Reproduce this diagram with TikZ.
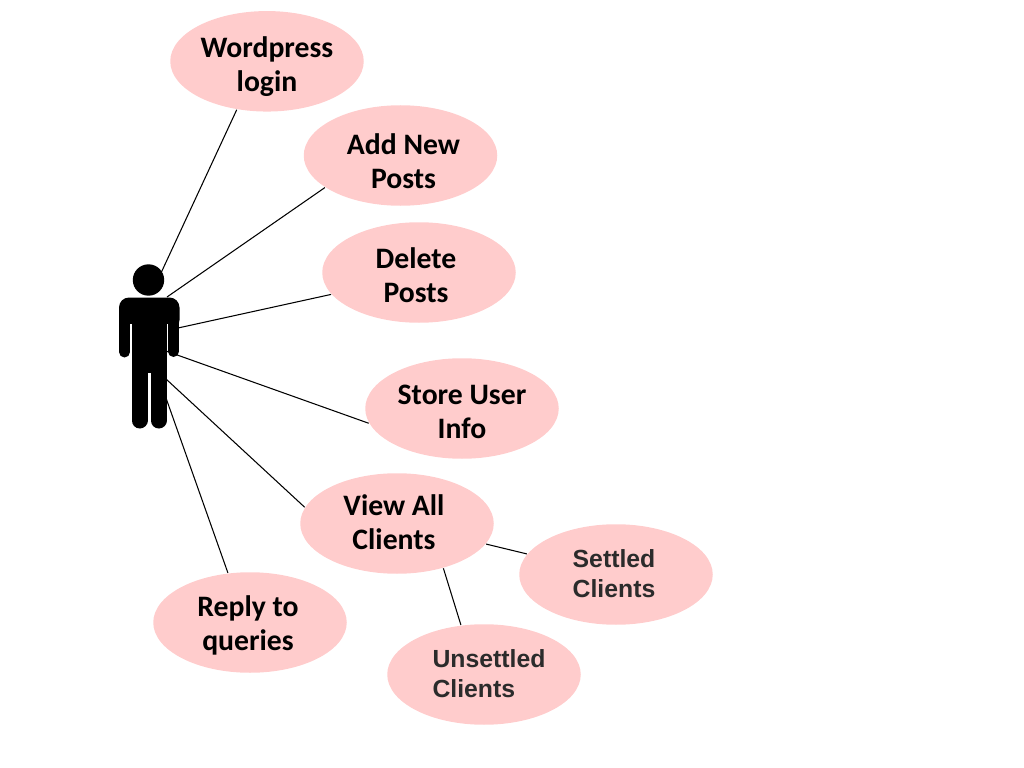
\documentclass[tikz,border=0pt]{standalone}
\usepackage{fontspec}
\setmainfont{Carlito}
\newfontfamily\subfont{Liberation Sans}
\usetikzlibrary{shapes.geometric}
\definecolor{casepink}{HTML}{FFCCCC}
\definecolor{subtext}{HTML}{2B2B2B}

\begin{document}
\begin{tikzpicture}[
scale=1,
usecase/.style={ellipse,draw=none,fill=casepink,minimum width=1.935cm,minimum height=1.005cm,inner sep=0pt},
casetext/.style={inner sep=0pt,align=center,font=\fontsize{8.45}{9.67}\selectfont\bfseries},
subtext/.style={inner sep=0pt,align=left,text=subtext,font=\fontsize{7.05}{8.5}\selectfont\subfont\bfseries},
link/.style={line width=0.3pt},
limb/.style={line width=#1,line cap=round}
]
    \useasboundingbox (0,0) rectangle (10.24,-7.68);

    % Draw use cases
    \node[usecase] (login) at (2.67,-0.613) {};
    \node[usecase] (addposts) at (4.005,-1.555) {};
    \node[usecase] (delposts) at (4.19,-2.725) {};
    \node[usecase] (store) at (4.62,-4.085) {};
    \node[usecase] (clients) at (3.97,-5.235) {};
    \node[usecase] (reply) at (2.50,-6.225) {};
    \node[usecase] (settled) at (6.16,-5.745) {};
    \node[usecase] (unsettled) at (4.84,-6.745) {};

    % Labels sit a little off centre
    \node[casetext,yshift=-0.05cm] (logintext) at (login) {Wordpress\\login};
    \node[casetext,xshift=0.03cm,yshift=-0.06cm] (addtext) at (addposts) {Add New\\Posts};
    \node[casetext,xshift=-0.03cm,yshift=-0.03cm] (deltext) at (delposts) {Delete\\Posts};
    \node[casetext,yshift=-0.03cm] (storetext) at (store) {Store User\\Info};
    \node[casetext,xshift=-0.03cm,yshift=0.01cm] (clientstext) at (clients) {View All\\Clients};
    \node[casetext,xshift=-0.02cm,yshift=-0.03cm] (replytext) at (reply) {Reply to\\queries};
    \node[subtext,xshift=-0.02cm,yshift=0.01cm] (settledtext) at (settled) {Settled\\Clients};
    \node[subtext,xshift=0.05cm,yshift=0.01cm] (unsettledtext) at (unsettled) {Unsettled\\Clients};

    % Where the lines meet the figure
    \draw
    (1.61,-2.73) coordinate (P1)
    (1.67,-2.97) coordinate (P2)
    (1.78,-3.28) coordinate (P3)
    (1.66,-3.51) coordinate (P4)
    (1.66,-3.79) coordinate (P5)
    (1.66,-3.98) coordinate (P6);

    \draw[link] (P1) -- (login.238);
    \draw[link] (P2) -- (addposts.203);
    \draw[link] (P3) -- (delposts.194);
    \draw[link] (P4) -- (store.189);
    \draw[link] (P5) -- (clients.170);
    \draw[link] (P6) -- (reply.114);
    \draw[link] (clients.-13) -- (settled.167);
    \draw[link] (clients.-44) -- (unsettled.115);

    % Draw figure
    \node[circle,fill=black,minimum size=0.314cm,inner sep=0pt] (head) at (1.485,-2.80) {};
    \fill[rounded corners=0.1cm] (1.19,-2.975) rectangle (1.795,-3.30);
    \fill (1.315,-3.10) rectangle (1.667,-3.73);
    \draw[limb=0.11cm] (1.245,-3.10) -- (1.245,-3.52);
    \draw[limb=0.11cm] (1.735,-3.10) -- (1.735,-3.515);
    \draw[limb=0.16cm] (1.395,-3.70) -- (1.395,-4.205);
    \draw[limb=0.16cm] (1.587,-3.70) -- (1.587,-4.205);
    \fill[white] (1.305,-3.24) rectangle (1.315,-3.50);
    \fill[white] (1.667,-3.24) rectangle (1.677,-3.50);
\end{tikzpicture}
\end{document}
